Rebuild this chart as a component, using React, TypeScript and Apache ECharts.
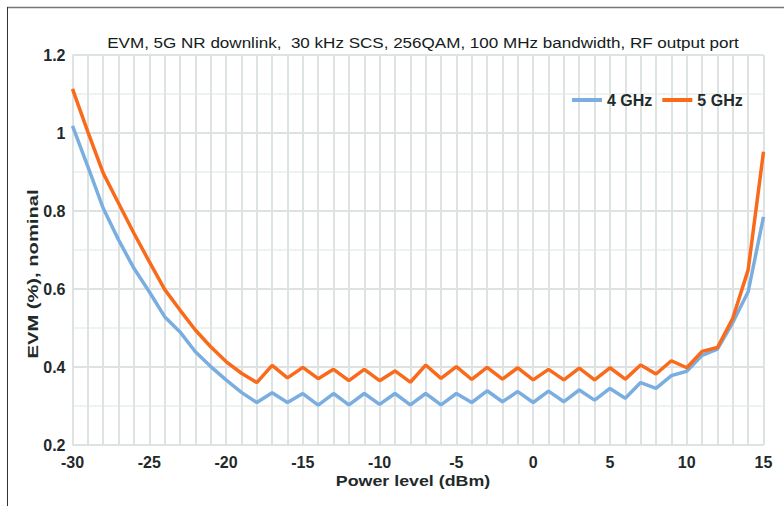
import React, { useEffect, useRef } from "react";
import * as echarts from "echarts";

const powerLevels: number[] = [
  -30, -29, -28, -27, -26, -25, -24, -23, -22, -21, -20, -19, -18, -17, -16, -15,
  -14, -13, -12, -11, -10, -9, -8, -7, -6, -5, -4, -3, -2, -1, 0, 1, 2, 3, 4, 5,
  6, 7, 8, 9, 10, 11, 12, 13, 14, 15,
];

const evm4GHz: number[] = [
  1.018, 0.914, 0.807, 0.726, 0.653, 0.593, 0.529, 0.49, 0.439, 0.401, 0.367, 0.335,
  0.309, 0.334, 0.309, 0.332, 0.302, 0.332, 0.303, 0.332, 0.304, 0.332, 0.303, 0.332,
  0.303, 0.332, 0.309, 0.339, 0.311, 0.337, 0.309, 0.338, 0.311, 0.341, 0.315, 0.345,
  0.32, 0.36, 0.345, 0.378, 0.389, 0.43, 0.446, 0.514, 0.593, 0.785,
];

const evm5GHz: number[] = [
  1.113, 1.003, 0.897, 0.82, 0.743, 0.67, 0.599, 0.546, 0.495, 0.452, 0.414, 0.384,
  0.36, 0.404, 0.372, 0.399, 0.37, 0.394, 0.365, 0.394, 0.365, 0.39, 0.361, 0.405,
  0.371, 0.401, 0.368, 0.399, 0.369, 0.398, 0.367, 0.394, 0.367, 0.397, 0.367, 0.398,
  0.369, 0.405, 0.382, 0.416, 0.398, 0.44, 0.45, 0.525, 0.649, 0.952,
];

const seriesNames: string[] = ["4 GHz", "5 GHz"];
const titleText = "EVM, 5G NR downlink,  30 kHz SCS, 256QAM, 100 MHz bandwidth, RF output port";
const xAxisTitle = "Power level (dBm)";
const yAxisTitle = "EVM (%), nominal";

const FONT = "'Liberation Sans', Arial, sans-serif";
const TEXT_COLOR = "#1f2a2b";

export default function App() {
  const ref = useRef<HTMLDivElement>(null);

  useEffect(() => {
    if (!ref.current) return;
    const chart = echarts.init(ref.current, undefined, { renderer: "svg" });
    const toPairs = (vals: number[]) => powerLevels.map((x, i) => [x, vals[i]]);
    chart.setOption({
      animation: false,
      backgroundColor: "#ffffff",
      textStyle: { fontFamily: FONT },
      grid: { left: 72.5, right: 20.5, top: 55, bottom: 61, containLabel: false },
      legend: {
        data: seriesNames,
        left: 572,
        top: 92,
        padding: 0,
        icon: "rect",
        itemWidth: 30,
        itemHeight: 4,
        itemGap: 10,
        textStyle: { fontFamily: FONT, fontSize: 16, fontWeight: "bold", color: TEXT_COLOR },
      },
      xAxis: {
        type: "value",
        min: -30,
        max: 15,
        interval: 5,
        axisLine: { show: false },
        axisTick: { show: false },
        axisLabel: { margin: 9, fontFamily: FONT, fontSize: 16, fontWeight: "bold", color: TEXT_COLOR },
        splitLine: { show: true, lineStyle: { color: "#dce3e2", width: 2 } },
        minorTick: { show: false, splitNumber: 5 },
        minorSplitLine: { show: true, lineStyle: { color: "#dce3e2", width: 2 } },
      },
      yAxis: {
        type: "value",
        min: 0.2,
        max: 1.2,
        interval: 0.2,
        axisLine: { show: false },
        axisTick: { show: false },
        axisLabel: { margin: 7, fontFamily: FONT, fontSize: 16, fontWeight: "bold", color: TEXT_COLOR },
        splitLine: { show: true, lineStyle: { color: "#dce3e2", width: 2 } },
        minorTick: { show: false, splitNumber: 2 },
        minorSplitLine: { show: true, lineStyle: { color: "#eef2f1", width: 2 } },
      },
      graphic: [
        { type: "line", shape: { x1: 7, y1: 7.5, x2: 784, y2: 7.5 }, style: { stroke: "#777777", lineWidth: 1.5 }, silent: true },
        { type: "line", shape: { x1: 7.5, y1: 7, x2: 7.5, y2: 506 }, style: { stroke: "#333333", lineWidth: 1 }, silent: true },
        {
          type: "text",
          x: 423,
          y: 42,
          scaleX: 1.1,
          style: { text: titleText, fontFamily: FONT, fontSize: 15.5, fill: "#142020", align: "center", verticalAlign: "middle" },
        },
        {
          type: "text",
          x: 413,
          y: 481,
          scaleX: 1.15,
          style: { text: xAxisTitle, fontFamily: FONT, fontSize: 15.5, fontWeight: "bold", fill: TEXT_COLOR, align: "center", verticalAlign: "middle" },
        },
        {
          type: "text",
          x: 33,
          y: 274,
          rotation: Math.PI / 2,
          scaleX: 1.3,
          style: { text: yAxisTitle, fontFamily: FONT, fontSize: 15.5, fontWeight: "bold", fill: TEXT_COLOR, align: "center", verticalAlign: "middle" },
        },
      ],
      series: [
        {
          name: seriesNames[0],
          type: "line",
          data: toPairs(evm4GHz),
          symbol: "none",
          lineStyle: { color: "#7aaee0", width: 3.5 },
          itemStyle: { color: "#7aaee0" },
          z: 2,
        },
        {
          name: seriesNames[1],
          type: "line",
          data: toPairs(evm5GHz),
          symbol: "none",
          lineStyle: { color: "#f96a1a", width: 3.5 },
          itemStyle: { color: "#f96a1a" },
          z: 3,
        },
      ],
    });
    return () => chart.dispose();
  }, []);

  return (
    <div
      ref={ref}
      style={{ position: "fixed", left: 0, top: 0, width: 784, height: 506 }}
    />
  );
}
